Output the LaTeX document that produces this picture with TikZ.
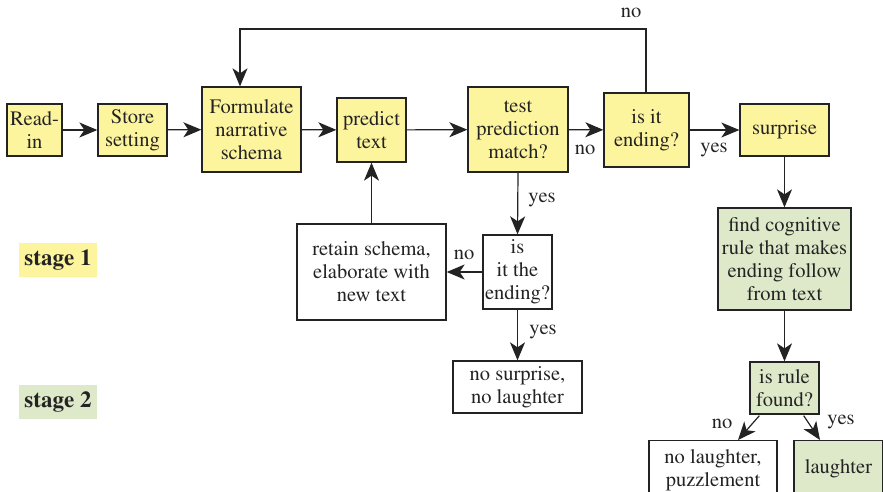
\documentclass[tikz,border=0pt]{standalone}
\usepackage[T1]{fontenc}
\usepackage{mathptmx}
\usetikzlibrary{arrows.meta}
\definecolor{paleyellow}{RGB}{253,244,158}
\definecolor{palegreen}{RGB}{221,233,201}
\definecolor{ink}{RGB}{35,35,35}
\begin{document}
\begin{tikzpicture}[x=1pt,y=-1pt,
  every node/.style={font=\rmfamily\fontsize{20.5}{23}\selectfont, text=ink},
  box/.style={draw=ink, line width=1.3pt, align=center, inner sep=1pt, minimum width=#1},
  box/.default=60,
  ybox/.style={box=#1, fill=paleyellow},
  gbox/.style={box=#1, fill=palegreen},
  wbox/.style={box=#1, fill=white},
  stagelbl/.style={font=\rmfamily\fontsize{23}{26}\selectfont\bfseries, minimum width=78, minimum height=34, inner sep=0pt},
  lbl/.style={inner sep=0pt},
  flow/.style={draw=ink, line width=1.2pt, -{Stealth[length=18pt, width=15pt, inset=5pt]}}
]
\useasboundingbox (0,0) rectangle (883,492);
\clip (0,0) rectangle (883,492);

% stage 1 boxes
\node[ybox=55, minimum height=52]  (readin)    at (34.5,130)  {Read-\\in};
\node[ybox=69, minimum height=52]  (store)     at (132.5,130) {Store\\setting};
\node[ybox=99, minimum height=85]  (formulate) at (251.5,129.5) {Formulate\\narrative\\schema};
\node[ybox=69, minimum height=64]  (predict)   at (371.5,130) {predict\\text};
\node[ybox=100, minimum height=85] (test)      at (518,129.5) {test\\prediction\\match?};
\node[ybox=85, minimum height=74]  (ending)    at (646.5,130) {is it\\ending?};
\node[ybox=89, minimum height=52]  (surprise)  at (784.5,130) {surprise};
\node[wbox=149, minimum height=96] (retain)    at (371.5,272) {retain schema,\\elaborate with\\new text};
\node[wbox=69, minimum height=74]  (isend)     at (517.5,272) {is\\it the\\ending?};
\node[wbox=129, minimum height=52] (nosurp)    at (517.5,387) {no surprise,\\no laughter};

% stage 2 boxes
\node[gbox=133, minimum height=102] (find)     at (784.5,259) {find cognitive\\rule that makes\\ending follow\\from text};
\node[gbox=69, minimum height=52]  (rule)      at (784.5,388) {is rule\\found?};
\node[wbox=128, minimum height=60, anchor=north] (nolaugh) at (713,440) {no laughter,\\puzzlement};
\node[gbox=89, minimum height=56, anchor=north]  (laugh)   at (838.5,440) {laughter};

% legend
\node[stagelbl, fill=paleyellow] (stage1) at (58,260) {stage 1};
\node[stagelbl, fill=palegreen]  (stage2) at (58,402) {stage 2};

% main line
\draw[flow] (readin) -- (store);
\draw[flow] (store) -- (formulate);
\draw[flow] (formulate) -- (predict);
\draw[flow] (predict) -- (test);
\draw[flow] (test) -- (ending);
\draw[flow] (ending) -- (surprise);

% loop back from the ending test
\coordinate (loopR) at (646,29);
\coordinate (loopL) at (240,29);
\draw[flow] (ending.north -| loopR) -- (loopR) -- (loopL) -- (loopL |- formulate.north);

% branch below the prediction test
\draw[flow] (test.south) -- (isend.north);
\draw[flow] (isend.west) -- (retain.east);
\draw[flow] (retain.north) -- (predict.south);
\draw[flow] (isend.south) -- (nosurp.north);

% stage 2 chain
\draw[flow] (surprise.south) -- (find.north);
\draw[flow] (find.south) -- (rule.north);
\draw[flow] (rule.south west) ++(10,1) -- (738,440) coordinate (nlTip);
\draw[flow] (rule.south east) ++(-16,1) -- (820,440) coordinate (lTip);

% labels
\node[lbl] (noTop)  at (631,13)  {no};
\node[lbl] (noMid)  at (585,150) {no};
\node[lbl] (yesMid) at (714,150) {yes};
\node[lbl] (yes1)   at (542,200) {yes};
\node[lbl] (no1)    at (464,255) {no};
\node[lbl] (yes2)   at (543,332) {yes};
\node[lbl] (no2)    at (722,424) {no};
\node[lbl] (yes3)   at (841,422) {yes};
\end{tikzpicture}
\end{document}
